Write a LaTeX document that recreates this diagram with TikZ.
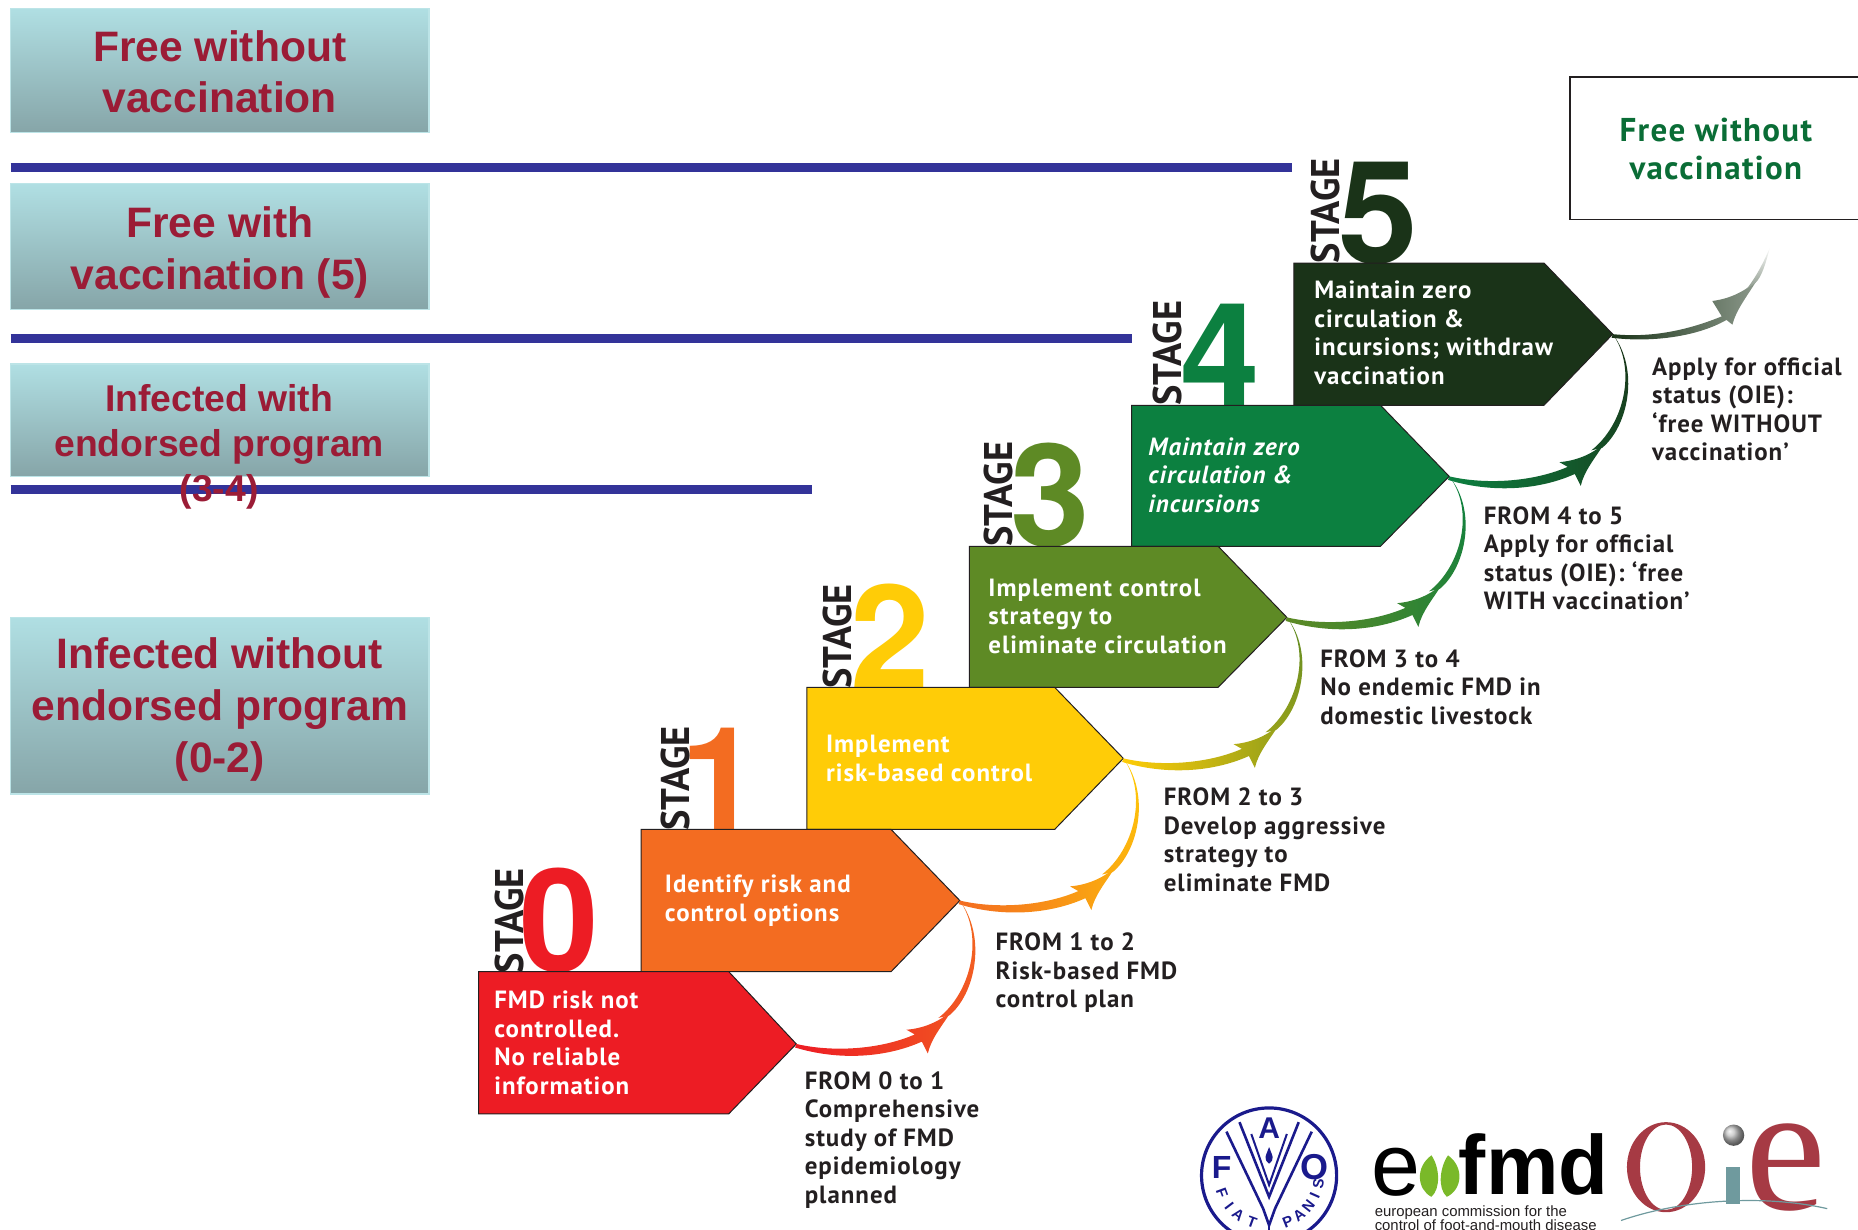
\documentclass[tikz,border=0pt]{standalone}
\usepackage{fontspec}
\usetikzlibrary{calc}
\setmainfont{Liberation Sans}
\newfontfamily\din[LetterSpace=4]{PT Sans}
\newfontfamily\dinnum{PT Sans}
\newfontfamily\numeral{TeX Gyre Heros}
\newfontfamily\oieserif{Liberation Serif}
\definecolor{wine}{HTML}{9B1C36}
\definecolor{rulebl}{HTML}{333399}
\definecolor{boxtop}{HTML}{B0DFE3}
\definecolor{boxbot}{HTML}{86A5A8}
\definecolor{sA}{HTML}{ED1C24}
\definecolor{sB}{HTML}{F36C21}
\definecolor{sC}{HTML}{FFCC07}
\definecolor{sD}{HTML}{5E8A25}
\definecolor{sE}{HTML}{0C8040}
\definecolor{sF}{HTML}{1A3318}
\definecolor{inkk}{HTML}{231F20}
\definecolor{faob}{HTML}{1A1A8C}
\definecolor{oier}{HTML}{A63A44}
\definecolor{oiet}{HTML}{6F9A9E}
\definecolor{hoof}{HTML}{7AB929}
\tikzset{
  x=1.18495pt,y=-1.18495pt,
  tealbox/.style={draw=boxtop!85!white,line width=1.5pt,top color=boxtop,bottom color=boxbot},
  boxtext/.style={text=wine,font=\bfseries,align=center,inner sep=0pt},
  blueline/.style={draw=rulebl,line width=9pt},
  hexa/.style={draw=inkk,line width=1pt},
  steptext/.style={text=white,font=\din\bfseries\fontsize{24.9}{28.5}\selectfont,align=left,anchor=west,inner sep=0pt},
  fromtext/.style={text=inkk,font=\din\bfseries\fontsize{24.9}{28.5}\selectfont,align=left,anchor=west,inner sep=0pt},
  digit/.style={font=\numeral\bfseries\fontsize{143}{143}\selectfont,anchor=base,inner sep=0pt},
  stagelbl/.style={text=inkk,font=\dinnum\bfseries\fontsize{40}{40}\selectfont,rotate=90,xscale=0.96,inner sep=0pt},
  faoline/.style={draw=faob,line width=2.6pt,line join=miter},
  faoltr/.style={text=faob,inner sep=0pt},
}
% body and head shaded from one stage colour to the next; thin tail up to the next tip
\newcommand{\stagearrow}[4]{%
  \begin{scope}[shift={(#1)}]
    \shade[left color=#3,right color=#3!35!#4]
      (0,0) .. controls (30,7) and (70,5) .. (100,-8) -- (93,-12)
      .. controls (106,-13) and (120,-18) .. (131,-28)
      .. controls (123,-15) and (114,-5) .. (111,8) -- (106,-2)
      .. controls (75,12) and (35,14) .. (-1,3) -- cycle;
    \shade[bottom color=#3!35!#4,top color=#4]
      (129,-24) .. controls (151,-42) and (161,-90) .. (#2)
      .. controls (159,-90) and (147,-43) .. (120,-22) -- cycle;
  \end{scope}}
\begin{document}
\begin{tikzpicture}
\useasboundingbox (0,0) rectangle (1568,1038);
% --- left column
\path[tealbox] (9,7) rectangle (362,112);
\node[boxtext,font=\bfseries\fontsize{42.6}{51.5}\selectfont] (lab1) at (185.5,60.5) {Free without\\vaccination};
\path[tealbox] (9,155) rectangle (362,261);
\node[boxtext,font=\bfseries\fontsize{42.6}{51.5}\selectfont] (lab2) at (185.5,213) {Free with\\vaccination (5)};
\path[tealbox] (9,307) rectangle (362,402);
\path[tealbox] (9,521) rectangle (362,670);
\draw[blueline] (9,141) -- (1090,141);
\draw[blueline] (9,286) -- (955,286);
\draw[blueline] (9,413) -- (685,413);
\begin{scope}
  \clip (0,300) rectangle (500,429);
  \node[boxtext,font=\bfseries\fontsize{37.3}{45}\selectfont] (lab3) at (185,377.5) {Infected with\\endorsed program\\(3-4)};
\end{scope}
\node[boxtext,font=\bfseries\fontsize{42.6}{52}\selectfont] (lab4) at (185.5,599) {Infected without\\endorsed program\\(0-2)};
% --- stage numerals
\node[digit,text=sA] (d0) at (472,820) {0};
\node[digit,text=sB] (d1) at (608,700) {1};
\node[digit,text=sC] (d2) at (751,580) {2};
\node[digit,text=sD] (d3) at (886,461) {3};
\node[digit,text=sE] (d4) at (1030,342) {4};
\node[digit,text=sF] (d5) at (1163,222) {5};
\node[stagelbl] (s0) at (430,777) {STAGE};
\node[stagelbl] (s1) at (570,657) {STAGE};
\node[stagelbl] (s2) at (707,537) {STAGE};
\node[stagelbl] (s3) at (843,417) {STAGE};
\node[stagelbl] (s4) at (985,298) {STAGE};
\node[stagelbl] (s5) at (1119,178) {STAGE};
% --- stage plates
\path[hexa,fill=sF] (1092,222) -- (1303,222) -- (1361,282) coordinate (t5) -- (1303,342) -- (1092,342) -- cycle;
\path[hexa,fill=sE] (955,342) -- (1165,342) -- (1223,402) coordinate (t4) -- (1165,461) -- (955,461) -- cycle;
\path[hexa,fill=sD] (818,461) -- (1028,461) -- (1086,521) coordinate (t3) -- (1028,580) -- (818,580) -- cycle;
\path[hexa,fill=sC] (681,580) -- (890,580) -- (948,640) coordinate (t2) -- (890,700) -- (681,700) -- cycle;
\path[hexa,fill=sB] (541,700) -- (752,700) -- (810,760) coordinate (t1) -- (752,820) -- (541,820) -- cycle;
\path[hexa,fill=sA] (404,820) -- (615,820) -- (672,881) coordinate (t0) -- (615,940) -- (404,940) -- cycle;
% --- plate texts
\node[steptext] (p0) at (417,880) {FMD risk not\\controlled.\\No reliable\\information};
\node[steptext] (p1) at (561,760) {Identify risk and\\control options};
\node[steptext] (p2) at (697,640) {Implement\\risk-based control};
\node[steptext] (p3) at (834,520) {Implement control\\strategy to\\eliminate circulation};
\node[steptext,font=\din\bfseries\itshape\fontsize{24.9}{28.5}\selectfont] (p4) at (969,401) {Maintain zero\\circulation \&\\incursions};
\node[steptext] (p5) at (1109,281) {Maintain zero\\circulation \&\\incursions; withdraw\\vaccination};
% --- transition texts
\node[fromtext] (f0) at (679,962) {FROM 0 to 1\\Comprehensive\\study of FMD\\epidemiology\\planned};
\node[fromtext] (f1) at (840,821) {FROM 1 to 2\\Risk-based FMD\\control plan};
\node[fromtext] (f2) at (982,708.5) {FROM 2 to 3\\Develop aggressive\\strategy to\\eliminate FMD};
\node[fromtext] (f3) at (1114,580) {FROM 3 to 4\\No endemic FMD in\\domestic livestock};
\node[fromtext] (f4) at (1252,471) {FROM 4 to 5\\Apply for official\\status (OIE): ‘free\\WITH vaccination’};
\node[fromtext] (f5) at (1394,345.5) {Apply for official\\status (OIE):\\‘free WITHOUT\\vaccination’};
% --- arrows
\stagearrow{t0}{t1}{sA}{sB}
\stagearrow{t1}{t2}{sB}{sC}
\stagearrow{t2}{t3}{sC}{sD}
\stagearrow{t3}{t4}{sD}{sE}
\stagearrow{t4}{t5}{sE}{sF}
% last arrow fades out
\coordinate (fade) at (1494,208);
\begin{scope}[shift={(t5)}]
  \shade[left color=sF,right color=sF!50!white]
    (0,0) .. controls (30,3) and (60,-2) .. (92,-15) -- (84,-28)
    .. controls (100,-30) and (113,-37) .. (122,-46)
    .. controls (112,-30) and (104,-20) .. (101,-8) -- (96,-12)
    .. controls (70,3) and (30,7) .. (-1,3) -- cycle;
  \shade[bottom color=sF!50!white,top color=white]
    (120,-43) .. controls (126,-48) and (129,-60) .. (fade)
    .. controls (127,-60) and (122,-50) .. (113,-38) -- cycle;
\end{scope}
% --- top right status box
\draw[draw=inkk,line width=1.3pt] (1600,65) -- (1325,65) -- (1325,185) -- (1600,185);
\node[align=center,inner sep=0pt,text=sE!85!black,font=\din\bfseries\fontsize{33}{38}\selectfont] (free) at (1448,126) {Free without\\vaccination};
% --- FAO emblem
\coordinate (fao) at (1071,992);
\draw[draw=faob,line width=3.2pt] (fao) circle[radius=57];
\draw[faoline] (1035,955) -- (1066,1020) -- (1071,1034) -- (1076,1020) -- (1107,955);
\draw[faoline] (1046,947) -- (1071,1010) -- (1096,947);
\draw[faoline,line width=2pt] (1056,957) -- (1071,1000) -- (1086,957);
\draw[faoline] (1071,1030) -- (1071,1052);
\node[faoltr,font=\bfseries\fontsize{30}{30}\selectfont] (fa) at (1071,952) {A};
\node[faoltr,font=\bfseries\fontsize{32}{32}\selectfont] (ff) at (1031,985) {F};
\node[faoltr,font=\bfseries\fontsize{36}{36}\selectfont] (fo) at (1109,985) {O};
\fill[faob] (1071,968) .. controls (1068,976) and (1066,978) .. (1071,982) .. controls (1076,978) and (1074,976) .. (1071,968) -- cycle;
\foreach \ch/\ang in {F/200,I/217,A/232,T/250,P/292,A/307,N/322,I/336,S/350}
  \node[faoltr,font=\bfseries\fontsize{15}{15}\selectfont,rotate=\ang+90,name=fz\ang] at ($(fao)+(\ang:50pt)$) {\ch};
% --- eofmd logo
\node[inner sep=0pt,anchor=base west,text=black,font=\fontsize{88}{88}\selectfont] (eo) at (1157,1009) {e};
\fill[hoof] (1208,975) .. controls (1194,985) and (1196,1004) .. (1208,1010) .. controls (1216,1003) and (1215,985) .. (1208,975) -- cycle;
\fill[hoof] (1222,975) .. controls (1236,985) and (1234,1004) .. (1221,1010) .. controls (1213,1003) and (1215,985) .. (1222,975) -- cycle;
\node[inner sep=0pt,anchor=base west,text=black,font=\bfseries\fontsize{84}{84}\selectfont,xscale=0.97] (fmd) at (1231,1008) {fmd};
\node[inner sep=0pt,anchor=north west,align=left,text=inkk,font=\fontsize{14.9}{13.2}\selectfont] (ec) at (1160,1017) {european commission for the\\control of foot-and-mouth disease};
% --- OIE logo
\fill[oier,even odd rule] (1406,985) ellipse[x radius=33,y radius=38] (1406,985) ellipse[x radius=22,y radius=36];
\fill[oiet] (1457,985) rectangle (1468,1016);
\shade[ball color=gray!50] (1463,958) circle[radius=9];
\node[inner sep=0pt,anchor=base,text=oier,font=\oieserif\fontsize{182}{182}\selectfont] (oe) at (1507,1021) {e};
\draw[draw=oiet,line width=1.2pt] (1368,1030) .. controls (1420,1012) and (1490,1008) .. (1542,1020);
\end{tikzpicture}
\end{document}
